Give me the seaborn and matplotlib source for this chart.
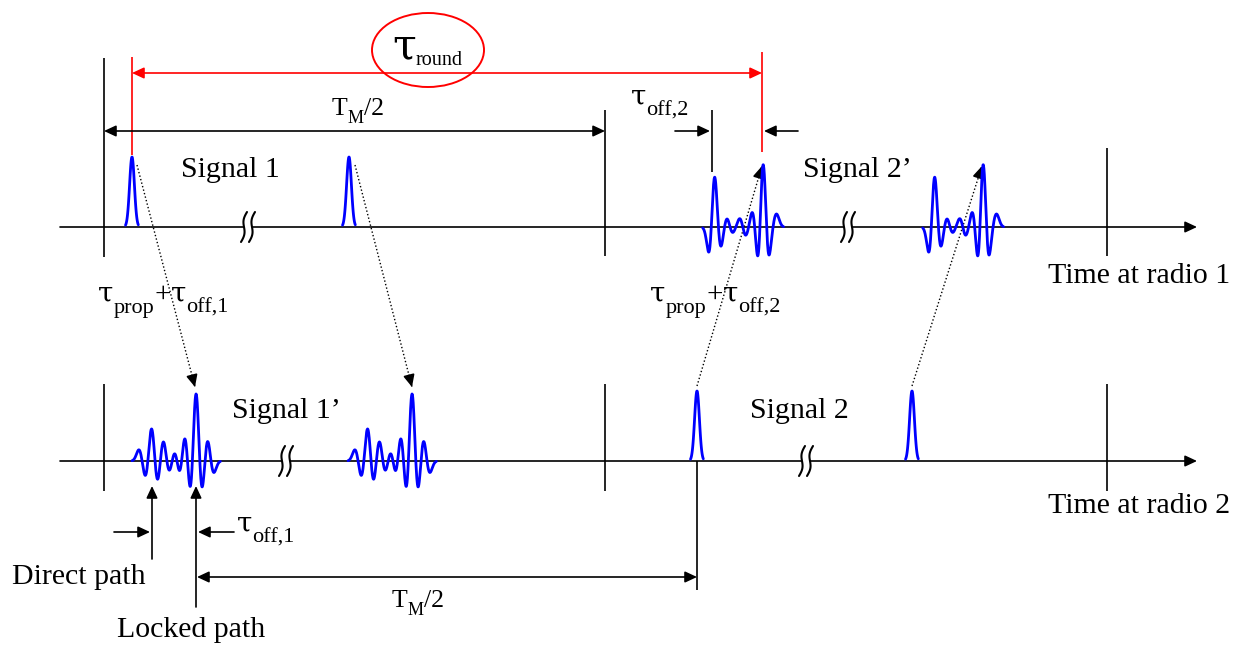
import numpy as np
import pandas as pd
import matplotlib
matplotlib.use("Agg")
import matplotlib.pyplot as plt
from matplotlib.patches import Ellipse, Polygon
import seaborn as sns

sns.set_style("white")
plt.rcParams["font.family"] = ["Liberation Serif", "DejaVu Serif"]
plt.rcParams["text.color"] = "black"

# ---- time axes of the two radios (diagram units) ----
axis_y = {"radio 1": 227, "radio 2": 461}
axis_start, axis_end = 60, 1197
frame_marks = [104, 605, 1107]

# ---- single transmitted pulses (centre time) ----
signal1_tx = [132, 349]          # sent by radio 1
signal2_tx = [697, 912]          # sent by radio 2
single_amp = 70
single_sigma = 2.4

# ---- received multipath replicas: extremum delay relative to locked path, extremum height ----
multipath_sigma = 2.7
sig1_rx_locked = [196, 412]      # Signal 1' seen at radio 2
sig1_rx_delay = [-56.7, -50.3, -44.3, -38.7, -32.7, -27.0, -21.0, -16.0, -11.0, -5.3, 0.0, 5.7, 11.3, 17.3]
sig1_rx_peak = [11, -14, 32, -18, 19, -9, 7, -9, 22, -24, 67, -25, 19, -11]

sig2_rx_locked = [763, 983]      # Signal 2' seen at radio 1
sig2_rx_delay = [-53.0, -48.7, -42.7, -36.0, -31.0, -22.7, -17.7, -10.0, -4.3, 0.0, 5.0, 13.3]
sig2_rx_peak = [-19, 49, -18, 8, -5, 8, -8, 13, -23, 62, -23, 13]

# break symbols on the axes
breaks_radio1 = [248, 848]
breaks_radio2 = [286, 806]


def tap_gains(delays, peaks, sigma):
    """Gains of Gaussian pulses placed at the extrema so the sum reaches the given heights."""
    d = np.asarray(delays, float)
    A = np.exp(-0.5 * ((d[:, None] - d[None, :]) / sigma) ** 2)
    return np.linalg.solve(A, np.asarray(peaks, float))


def waveform(centre, delays, gains, sigma, base):
    delays = np.asarray(delays, float)
    t = np.arange(centre + delays.min() - 2.7 * sigma,
                  centre + delays.max() + 2.7 * sigma, 0.2)
    h = np.zeros_like(t)
    for d, a in zip(delays, gains):
        h += a * np.exp(-0.5 * ((t - centre - d) / sigma) ** 2)
    return t, base - h


g1 = tap_gains(sig1_rx_delay, sig1_rx_peak, multipath_sigma)
g2 = tap_gains(sig2_rx_delay, sig2_rx_peak, multipath_sigma)

traces = []
for k, c in enumerate(signal1_tx):
    x, y = waveform(c, [0], [single_amp], single_sigma, axis_y["radio 1"])
    traces.append(pd.DataFrame({"x": x, "y": y, "trace": f"s1_{k}"}))
for k, c in enumerate(signal2_tx):
    x, y = waveform(c, [0], [single_amp], single_sigma, axis_y["radio 2"])
    traces.append(pd.DataFrame({"x": x, "y": y, "trace": f"s2_{k}"}))
for k, c in enumerate(sig1_rx_locked):
    x, y = waveform(c, sig1_rx_delay, g1, multipath_sigma, axis_y["radio 2"])
    traces.append(pd.DataFrame({"x": x, "y": y, "trace": f"r1_{k}"}))
for k, c in enumerate(sig2_rx_locked):
    x, y = waveform(c, sig2_rx_delay, g2, multipath_sigma, axis_y["radio 1"])
    traces.append(pd.DataFrame({"x": x, "y": y, "trace": f"r2_{k}"}))
wave_df = pd.concat(traces, ignore_index=True)

fig = plt.figure(figsize=(12.47, 6.46), dpi=100)
ax = fig.add_axes([0, 0, 1, 1])

LW = 1.2
HEAD = "-|>,head_length=0.6,head_width=0.28"
HEAD2 = "<|-|>,head_length=0.6,head_width=0.28"


def arrow(x0, y0, x1, y1, color="black", style=HEAD, lw=LW, z=3):
    ax.annotate("", xy=(x1, y1), xytext=(x0, y0),
                arrowprops=dict(arrowstyle=style, color=color, lw=lw,
                                mutation_scale=12, shrinkA=0, shrinkB=0),
                zorder=z)


def vline(x, y0, y1, color="black", lw=LW):
    ax.plot([x, x], [y0, y1], color=color, lw=lw, solid_capstyle="butt", zorder=2)


def dotted_arrow(x0, y0, x1, y1):
    ax.plot([x0, x1], [y0, y1], color="black", lw=1.0, ls=(0, (1, 1.6)), zorder=4)
    v = np.array([x1 - x0, y1 - y0], float)
    v /= np.hypot(*v)
    arrow(x1 - 12 * v[0], y1 - 12 * v[1], x1, y1, z=5)


def break_mark(xc, yc):
    s = np.linspace(-1, 1, 40)
    strokes = []
    for dx in (-4, 4):
        xs = xc + dx - 3.0 * s + 1.8 * np.sin(np.pi * s)
        ys = yc + 15 * s
        strokes.append((xs, ys))
    poly = np.vstack([np.column_stack(strokes[0]),
                      np.column_stack(strokes[1])[::-1]])
    ax.add_patch(Polygon(poly, closed=True, fc="white", ec="none", zorder=3))
    for xs, ys in strokes:
        ax.plot(xs, ys, color="black", lw=1.5, zorder=4)


# waveforms
sns.lineplot(data=wave_df, x="x", y="y", units="trace", estimator=None,
             sort=False, color="#0000ff", lw=2.0, ax=ax, zorder=6, legend=False)
ax.set_xlim(0, 1247)
ax.set_ylim(646, 0)
ax.axis("off")

renderer = fig.canvas.get_renderer()
GREEK = ["DejaVu Serif"]
ROMAN = ["Liberation Serif", "DejaVu Serif"]
TAU = "\u03c4"


def chain(x, base, pieces):
    """Write text pieces one after another: (text, size, drop below baseline)."""
    for txt, size, drop in pieces:
        fam = GREEK if txt == TAU else ROMAN
        t = ax.text(x, base + drop, txt, fontsize=size, family=fam,
                    ha="left", va="baseline")
        bb = t.get_window_extent(renderer)
        x = ax.transData.inverted().transform((bb.x1, bb.y0))[0]


TS, SS, SD = 20, 16, 11   # tau size, subscript size, subscript drop

# time axes
for name, y in axis_y.items():
    arrow(axis_start, y, axis_end, y, lw=LW)

# frame boundaries
vline(frame_marks[0], 58, 257)
vline(frame_marks[1], 110, 256)
vline(frame_marks[2], 148, 256)
for x in frame_marks:
    vline(x, 384, 491)

for xb in breaks_radio1:
    break_mark(xb, axis_y["radio 1"])
for xb in breaks_radio2:
    break_mark(xb, axis_y["radio 2"])

# round-trip time
red = "#ff0000"
vline(signal1_tx[0], 57, 155, color=red)
vline(sig2_rx_locked[0] - 1, 52, 152, color=red)
arrow(signal1_tx[0], 73, sig2_rx_locked[0] - 1, 73, color=red, style=HEAD2)
ax.add_patch(Ellipse((428, 50), 112, 74, fill=False, ec=red, lw=1.4, zorder=3))
chain(392, 58, [(TAU, 31, 0), ("round", 14.5, 7)])

# half frame at radio 1
arrow(frame_marks[0], 131, frame_marks[1], 131, style=HEAD2)
chain(332, 115, [("T", 18.5, 0), ("M", 13, 8), ("/2", 18.5, 0)])

# offset at radio 1
vline(712, 110, 172)
arrow(675, 131, 710, 131)
arrow(798, 131, 764, 131)
chain(631, 105, [(TAU, TS, 0), ("off,2", SS, SD)])

# propagation arrows
dotted_arrow(137, 165, 195, 387)
dotted_arrow(355, 165, 412, 387)
dotted_arrow(697, 386, 762, 166)
dotted_arrow(912, 386, 982, 166)
chain(98, 302, [(TAU, TS, 0), ("prop", SS, SD), ("+", 21, 0), (TAU, TS, 0), ("off,1", SS, SD)])
chain(650, 302, [(TAU, TS, 0), ("prop", SS, SD), ("+", 21, 0), (TAU, TS, 0), ("off,2", SS, SD)])

# path markers at radio 2
arrow(152, 559, 152, 486)
arrow(196, 607, 196, 486)
arrow(114, 532, 150, 532)
arrow(234, 532, 198, 532)
chain(237, 532, [(TAU, TS, 0), ("off,1", SS, SD)])
vline(signal2_tx[0], axis_y["radio 2"], 590)
arrow(197, 577, signal2_tx[0], 577, style=HEAD2)
chain(392, 607, [("T", 18.5, 0), ("M", 13, 8), ("/2", 18.5, 0)])

# labels
fs = 21.5
ax.text(181, 177, "Signal 1", fontsize=fs, ha="left", va="baseline")
ax.text(803, 177, "Signal 2\u2019", fontsize=fs, ha="left", va="baseline")
ax.text(232, 418, "Signal 1\u2019", fontsize=fs, ha="left", va="baseline")
ax.text(750, 418, "Signal 2", fontsize=fs, ha="left", va="baseline")
ax.text(1048, 283, "Time at radio 1", fontsize=fs, ha="left", va="baseline")
ax.text(1048, 513, "Time at radio 2", fontsize=fs, ha="left", va="baseline")
ax.text(12, 584, "Direct path", fontsize=fs, ha="left", va="baseline")
ax.text(117, 637, "Locked path", fontsize=fs, ha="left", va="baseline")

fig.savefig("out.png", dpi=100, facecolor="white")
